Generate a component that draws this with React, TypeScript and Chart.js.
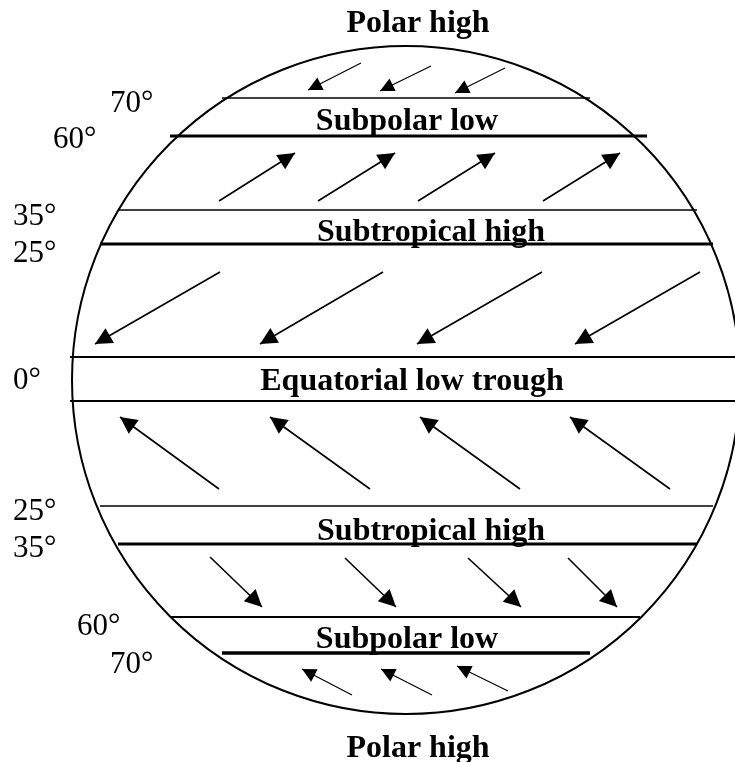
import React, { useEffect, useRef } from "react";
import { Chart, registerables } from "chart.js";

Chart.register(...registerables);

// Globe outline (data units)
const globeCenterX = 406;
const globeCenterY = 380;
const globeRadius = 334;

// Pressure zone names and their label anchors (center x, baseline y)
const zoneNames = [
  "Polar high",
  "Subpolar low",
  "Subtropical high",
  "Equatorial low trough",
  "Subtropical high",
  "Subpolar low",
  "Polar high",
];
const zoneX = [418, 407, 431, 412, 431, 407, 418];
const zoneY = [32, 130, 241, 390, 540, 648, 757];

// Latitude labels
const latLabels = ["70°", "60°", "35°", "25°", "0°", "25°", "35°", "60°", "70°"];
const latLabelX = [110, 53, 13, 13, 13, 13, 13, 77, 110];
const latLabelY = [112, 148, 225, 262, 389, 520, 557, 635, 673];

// Boundary lines
const boundaryY = [98, 136, 210, 244, 357, 401, 506, 544, 617, 653];
const boundaryX1 = [222, 170, 118, 100, 70, 70, 100, 118, 170, 222];
const boundaryX2 = [590, 647, 697, 713, 735, 735, 713, 697, 640, 590];
const boundaryWidth = [1.5, 3, 1.5, 3, 2, 2, 1.5, 3, 2, 3.5];

// Wind arrows: tail -> tip
const arrowTailX = [361, 431, 505, 219, 318, 418, 543, 220, 383, 542, 700, 219, 370, 520, 670, 210, 345, 468, 568, 352, 432, 508];
const arrowTailY = [63, 66, 68, 201, 201, 201, 201, 272, 272, 272, 272, 489, 489, 489, 489, 557, 558, 558, 558, 695, 695, 691];
const arrowTipX = [308, 380, 455, 295, 395, 495, 620, 95, 260, 417, 575, 120, 270, 420, 570, 262, 396, 521, 617, 302, 381, 457];
const arrowTipY = [90, 91, 93, 153, 153, 153, 153, 344, 344, 344, 344, 417, 417, 417, 417, 607, 607, 607, 607, 669, 669, 666];
const arrowSmall = [1, 1, 1, 0, 0, 0, 0, 0, 0, 0, 0, 0, 0, 0, 0, 0, 0, 0, 0, 1, 1, 1];

export default function App() {
  const ref = useRef<HTMLCanvasElement | null>(null);

  useEffect(() => {
    if (!ref.current) return;

    const datasets: any[] = [];
    boundaryY.forEach((y, i) => {
      datasets.push({
        type: "line",
        data: [
          { x: boundaryX1[i], y },
          { x: boundaryX2[i], y },
        ],
        borderColor: "#000",
        borderWidth: boundaryWidth[i],
        pointRadius: 0,
        fill: false,
      });
    });
    arrowTailX.forEach((tx, i) => {
      datasets.push({
        type: "line",
        data: [
          { x: tx, y: arrowTailY[i] },
          { x: arrowTipX[i], y: arrowTipY[i] },
        ],
        borderColor: "#000",
        borderWidth: arrowSmall[i] ? 1.2 : 1.6,
        pointRadius: 0,
        fill: false,
      });
    });

    const diagramPlugin = {
      id: "diagram",
      beforeDatasetsDraw(chart: any) {
        const { ctx, scales } = chart;
        const xs = scales.x;
        const ys = scales.y;
        const cx = xs.getPixelForValue(globeCenterX);
        const cy = ys.getPixelForValue(globeCenterY);
        const r = xs.getPixelForValue(globeCenterX + globeRadius) - cx;
        ctx.save();
        ctx.beginPath();
        ctx.arc(cx, cy, r, 0, Math.PI * 2);
        ctx.lineWidth = 2;
        ctx.strokeStyle = "#000";
        ctx.stroke();
        ctx.restore();
      },
      afterDatasetsDraw(chart: any) {
        const { ctx, scales } = chart;
        const xs = scales.x;
        const ys = scales.y;
        ctx.save();
        ctx.fillStyle = "#000";
        // arrowheads
        arrowTailX.forEach((tx, i) => {
          const x0 = xs.getPixelForValue(tx);
          const y0 = ys.getPixelForValue(arrowTailY[i]);
          const x1 = xs.getPixelForValue(arrowTipX[i]);
          const y1 = ys.getPixelForValue(arrowTipY[i]);
          const ang = Math.atan2(y1 - y0, x1 - x0);
          const L = arrowSmall[i] ? 14 : 17;
          const W = arrowSmall[i] ? 7 : 8.5;
          const bx = x1 - L * Math.cos(ang);
          const by = y1 - L * Math.sin(ang);
          const px = -Math.sin(ang);
          const py = Math.cos(ang);
          ctx.beginPath();
          ctx.moveTo(x1, y1);
          ctx.lineTo(bx + W * px, by + W * py);
          ctx.lineTo(bx - W * px, by - W * py);
          ctx.closePath();
          ctx.fill();
        });
        // zone names
        ctx.font = "bold 32px 'Liberation Serif', 'Times New Roman', serif";
        ctx.textAlign = "center";
        ctx.textBaseline = "alphabetic";
        zoneNames.forEach((name, i) => {
          ctx.fillText(name, xs.getPixelForValue(zoneX[i]), ys.getPixelForValue(zoneY[i]));
        });
        // latitude labels
        ctx.font = "31px 'Liberation Serif', 'Times New Roman', serif";
        ctx.textAlign = "left";
        latLabels.forEach((lab, i) => {
          ctx.fillText(lab, xs.getPixelForValue(latLabelX[i]), ys.getPixelForValue(latLabelY[i]));
        });
        ctx.restore();
      },
    };

    const chart = new Chart(ref.current, {
      type: "scatter",
      data: { datasets },
      options: {
        animation: false,
        responsive: false,
        maintainAspectRatio: false,
        layout: { padding: 0 },
        plugins: {
          legend: { display: false },
          tooltip: { enabled: false },
        },
        scales: {
          x: { type: "linear", min: 0, max: 735, display: false },
          y: { type: "linear", min: 0, max: 762, reverse: true, display: false },
        },
      },
      plugins: [diagramPlugin],
    });
    return () => chart.destroy();
  }, []);

  return (
    <div style={{ position: "fixed", left: 0, top: 0, width: 735, height: 762, background: "#fff" }}>
      <canvas ref={ref} width={735} height={762} style={{ display: "block", width: 735, height: 762 }} />
    </div>
  );
}
